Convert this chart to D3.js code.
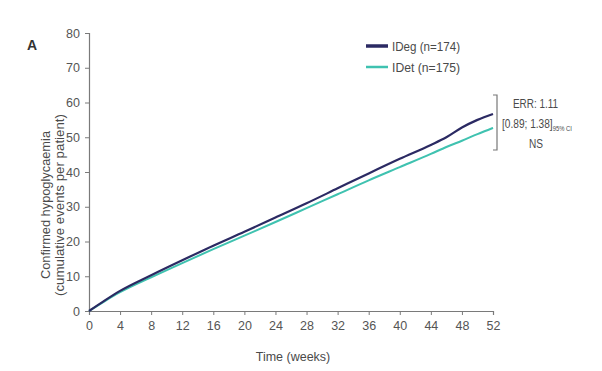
<!DOCTYPE html>
<html>
<head>
<meta charset="utf-8">
<script src="https://cdn.jsdelivr.net/npm/d3@7"></script>
<style>
  html, body { margin: 0; padding: 0; background: #fff; }
  svg text { font-family: "Liberation Sans Narrow", "Arial Narrow", "Liberation Sans", sans-serif; fill: #4a4a4a; }
</style>
</head>
<body>
<svg id="chart" width="602" height="371"></svg>
<script>
// Cumulative confirmed hypoglycaemic events per patient, by week
const weeks    = [0, 2, 4, 8, 12, 16, 20, 24, 28, 32, 36, 40, 44, 46, 48, 50, 52];
const ideg     = [0, 3.0, 5.8, 10.3, 14.6, 18.8, 22.8, 26.9, 31.0, 35.3, 39.6, 43.8, 47.8, 50.0, 52.8, 55.0, 56.7];
const idet     = [0, 2.8, 5.4, 9.7, 13.8, 17.8, 21.7, 25.6, 29.6, 33.6, 37.6, 41.4, 45.2, 47.2, 49.0, 50.9, 52.7];
const xTicks   = [0, 4, 8, 12, 16, 20, 24, 28, 32, 36, 40, 44, 48, 52];
const yTicks   = [0, 10, 20, 30, 40, 50, 60, 70, 80];
const seriesNames = ["IDeg (n=174)", "IDet (n=175)"];
const seriesColors = ["#2b2a63", "#3fc2b0"];

const svg = d3.select("#chart");
const x = d3.scaleLinear().domain([0, 52]).range([89, 493]);
const y = d3.scaleLinear().domain([0, 80]).range([311, 33]);

// Panel letter
svg.append("text").attr("x", 27).attr("y", 50)
  .style("font-family", "'Liberation Sans', Arial, sans-serif")
  .style("font-weight", "bold").style("font-size", "14px").style("fill", "#333")
  .text("A");

// Axes
const xAxis = svg.append("g").attr("transform", "translate(0,311)")
  .call(d3.axisBottom(x).tickValues(xTicks).tickSize(4).tickPadding(6));
const yAxis = svg.append("g").attr("transform", "translate(89,0)")
  .call(d3.axisLeft(y).tickValues(yTicks).tickSize(4).tickPadding(5));
[xAxis, yAxis].forEach(g => {
  g.select(".domain").attr("stroke", "#7a7a7a").attr("stroke-width", 1.2);
  g.selectAll(".tick line").attr("stroke", "#7a7a7a");
  g.selectAll(".tick text").style("font-size", "12.5px").style("fill", "#555");
});

// Lines
const line = d3.line().x((d, i) => x(weeks[i])).y(d => y(d)).curve(d3.curveMonotoneX);
svg.append("path").datum(idet).attr("fill", "none")
  .attr("stroke", seriesColors[1]).attr("stroke-width", 2).attr("d", line);
svg.append("path").datum(ideg).attr("fill", "none")
  .attr("stroke", seriesColors[0]).attr("stroke-width", 2.2).attr("d", line);

// Legend
const legend = svg.append("g");
seriesNames.forEach((name, i) => {
  const ly = 46 + i * 21;
  legend.append("line").attr("x1", 366).attr("x2", 388).attr("y1", ly).attr("y2", ly)
    .attr("stroke", seriesColors[i]).attr("stroke-width", i === 0 ? 3.5 : 2.5);
  legend.append("text").attr("x", 392).attr("y", ly + 4.5)
    .attr("textLength", 68).attr("lengthAdjust", "spacingAndGlyphs")
    .style("font-size", "12.5px").text(name);
});

// Rate ratio annotation with bracket
const bx = 497;
const bTop = 95, bBot = 150;
svg.append("path")
  .attr("d", `M${bx - 4},${bTop} H${bx} V${bBot} H${bx - 4}`)
  .attr("fill", "none").attr("stroke", "#777").attr("stroke-width", 1.2);
svg.append("text").attr("x", 513).attr("y", 108)
  .attr("textLength", 45).attr("lengthAdjust", "spacingAndGlyphs")
  .style("font-size", "13px").text("ERR: 1.11");
// Confidence interval with a subscript label, horizontally condensed
const ci = svg.append("text").attr("transform", "translate(502,128) scale(0.78,1)")
  .style("font-size", "13px");
ci.append("tspan").text("[0.89; 1.38]");
ci.append("tspan").attr("dy", 3).style("font-size", "7.5px").text("95% CI");
svg.append("text").attr("x", 536).attr("y", 148).attr("text-anchor", "middle")
  .attr("textLength", 14).attr("lengthAdjust", "spacingAndGlyphs")
  .style("font-size", "13px").text("NS");

// Axis titles
svg.append("text").attr("x", 293).attr("y", 361).attr("text-anchor", "middle")
  .style("font-size", "12.5px").text("Time (weeks)");
const yt = svg.append("g").attr("transform", "translate(50,205) rotate(-90)");
yt.append("text").attr("x", -74).attr("y", 0)
  .attr("textLength", 148).attr("lengthAdjust", "spacingAndGlyphs")
  .style("font-size", "13px").text("Confirmed hypoglycaemia");
yt.append("text").attr("x", -91).attr("y", 14)
  .attr("textLength", 182).attr("lengthAdjust", "spacingAndGlyphs")
  .style("font-size", "13px").text("(cumulative events per patient)");
</script>
</body>
</html>
